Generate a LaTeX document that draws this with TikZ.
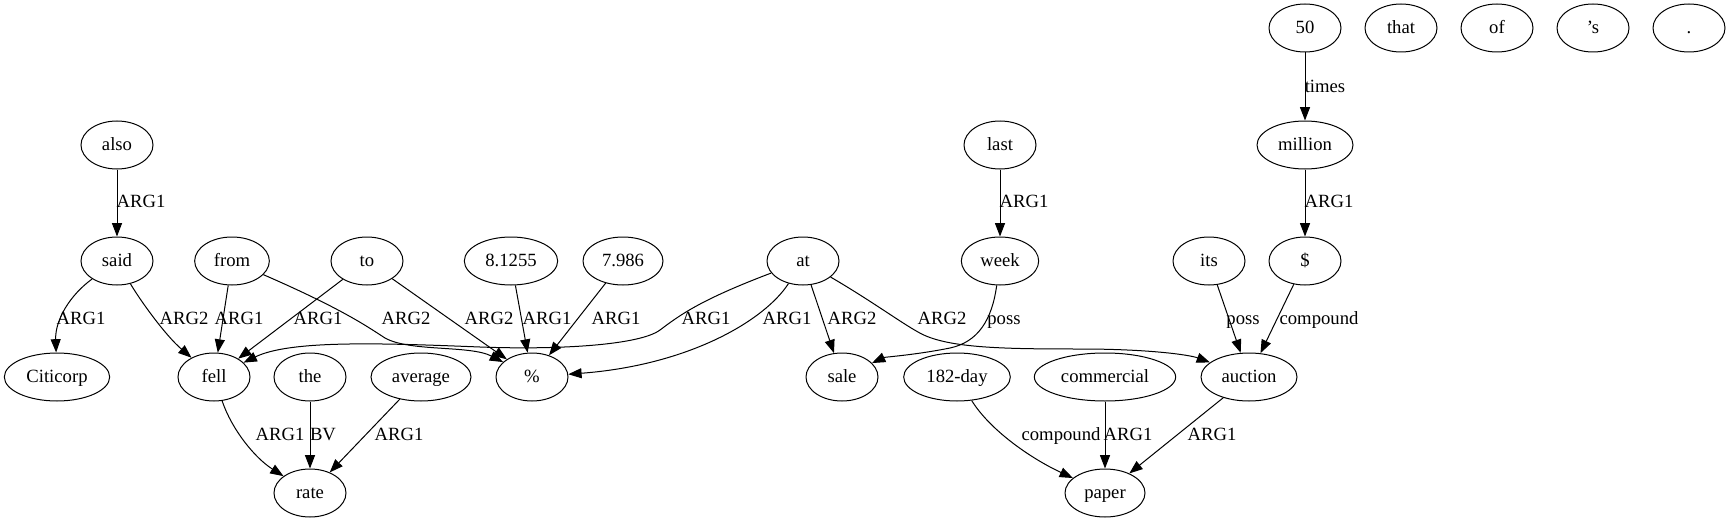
\documentclass[tikz,border=0pt]{standalone}
\usepackage{fontspec}
\setmainfont{Liberation Serif}
\usetikzlibrary{arrows.meta,shapes.geometric}
\begin{document}
\begin{tikzpicture}[
        x=0.75pt, y=-0.75pt, line width=0.75pt,
        every node/.style={draw, ellipse, minimum width=54pt, minimum height=36pt, inner sep=0pt, text height=10.5pt, text depth=2pt, font=\fontsize{14pt}{16pt}\selectfont},
        lbl/.style={draw=none, rectangle, minimum width=0pt, minimum height=0pt, inner sep=0pt},
        dep/.style={draw, -{Triangle[length=10pt,width=7.5pt]}},
    ]
    \useasboundingbox (0,0) rectangle (1731,528);
    % tokens
    \node(fifty) at (1305,28){50};
    \node(that) at (1401,28){that};
    \node(of) at (1497,28){of};
    \node(aps) at (1593,28){’s};
    \node(dot) at (1689,28){.};
    \node(also) at (117,145){also};
    \node(last) at (1000,145){last};
    \node[minimum width=72pt](million) at (1305,145){million};
    \node(said) at (117,261){said};
    \node[minimum width=56pt](from) at (232,261){from};
    \node(to) at (367,261){to};
    \node[minimum width=70pt](n81255) at (511,261){8.1255};
    \node[minimum width=60pt](n7986) at (623,261){7.986};
    \node(at) at (803,261){at};
    \node[minimum width=58pt](week) at (1000,261){week};
    \node(its) at (1209,261){its};
    \node(dollar) at (1305,261){\$};
    \node[minimum width=79pt](citicorp) at (57,377){Citicorp};
    \node(fell) at (214,377){fell};
    \node(the) at (310,377){the};
    \node[minimum width=75pt](average) at (421,377){average};
    \node(pct) at (532,377){\%};
    \node(sale) at (842,377){sale};
    \node[minimum width=80pt](day) at (957,377){182-day};
    \node[minimum width=106pt](commercial) at (1105,377){commercial};
    \node[minimum width=72pt](auction) at (1249,377){auction};
    \node(rate) at (310,493){rate};
    \node[minimum width=60pt](paper) at (1105,493){paper};
    % dependencies
    \draw[dep] (also) -- (said);
    \draw[dep] (said) .. controls (70,295) and (55,320) .. (citicorp);
    \draw[dep] (said) .. controls (140,300) and (165,335) .. (fell);
    \draw[dep] (from) -- (fell);
    \draw[dep] (from) .. controls (340,308) and (365,325) .. (385,338) .. controls (410,352) and (470,345) .. (pct);
    \draw[dep] (to) -- (fell);
    \draw[dep] (to) -- (pct);
    \draw[dep] (n81255) -- (pct);
    \draw[dep] (n7986) -- (pct);
    \draw[dep] (at) .. controls (700,300) and (680,315) .. (660,330) .. controls (640,345) and (560,350) .. (480,347) .. controls (380,343) and (290,340) .. (fell);
    \draw[dep] (at) .. controls (765,320) and (690,365) .. (pct);
    \draw[dep] (at) -- (sale);
    \draw[dep] (at) .. controls (870,300) and (900,322) .. (918,332) .. controls (945,348) and (1000,349) .. (1080,349) .. controls (1150,349) and (1190,355) .. (auction);
    \draw[dep] (last) -- (week);
    \draw[dep] (week) .. controls (992,320) and (978,342) .. (950,348) .. controls (915,355) and (885,357) .. (sale);
    \draw[dep] (fifty) -- (million);
    \draw[dep] (million) -- (dollar);
    \draw[dep] (its) -- (auction);
    \draw[dep] (dollar) -- (auction);
    \draw[dep] (fell) .. controls (232,430) and (255,458) .. (rate);
    \draw[dep] (the) -- (rate);
    \draw[dep] (average) -- (rate);
    \draw[dep] (day) .. controls (990,430) and (1030,458) .. (paper);
    \draw[dep] (commercial) -- (paper);
    \draw[dep] (auction) -- (paper);
    % labels
    \node[lbl](fiftyMillion) at (1325,87){times};
    \node[lbl](alsoSaid) at (141,202){ARG1};
    \node[lbl](lastWeek) at (1024,202){ARG1};
    \node[lbl](millionDollar) at (1329,202){ARG1};
    \node[lbl](saidCiticorp) at (81,319){ARG1};
    \node[lbl](saidFell) at (184,319){ARG2};
    \node[lbl](fromFell) at (239,319){ARG1};
    \node[lbl](toFell) at (318,319){ARG1};
    \node[lbl](fromPct) at (406,319){ARG2};
    \node[lbl](toPct) at (489,319){ARG2};
    \node[lbl](nAPct) at (547,319){ARG1};
    \node[lbl](nBPct) at (616,319){ARG1};
    \node[lbl](atFell) at (706,319){ARG1};
    \node[lbl](atPct) at (787,319){ARG1};
    \node[lbl](atSale) at (852,319){ARG2};
    \node[lbl](atAuction) at (942,319){ARG2};
    \node[lbl](weekSale) at (1004,319){poss};
    \node[lbl](itsAuction) at (1243,319){poss};
    \node[lbl](dollarAuction) at (1319,319){compound};
    \node[lbl](fellRate) at (280,435){ARG1};
    \node[lbl](theRate) at (323,435){BV};
    \node[lbl](averageRate) at (399,435){ARG1};
    \node[lbl](dayPaper) at (1061,435){compound};
    \node[lbl](commercialPaper) at (1128,435){ARG1};
    \node[lbl](auctionPaper) at (1212,435){ARG1};
\end{tikzpicture}
\end{document}
